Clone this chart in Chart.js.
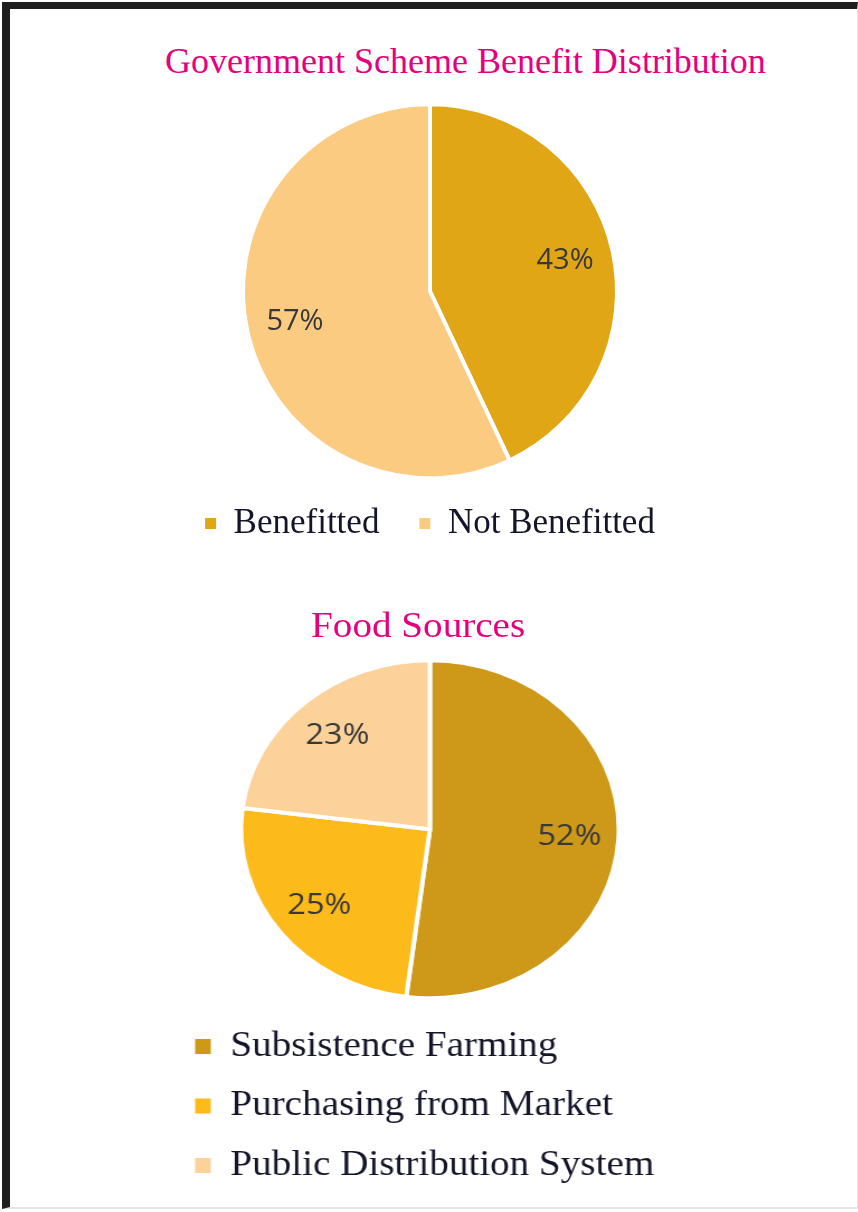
<!DOCTYPE html>
<html>
<head>
<meta charset="utf-8">
<script src="https://cdn.jsdelivr.net/npm/chart.js@4.4.1/dist/chart.umd.min.js"></script>
<style>
  html, body { margin: 0; padding: 0; background: #fff; }
  body { width: 858px; height: 1212px; position: relative; overflow: hidden; }
  .frame {
    position: absolute; left: 2px; top: 2px; right: 0; bottom: 3px;
    border-left: 8px solid #1e1e1e; border-top: 7px solid #1e1e1e;
    border-right: 1px solid #e4e4e4; border-bottom: 2px solid #e6e6e6;
  }
  .title {
    position: absolute; text-align: center; white-space: nowrap;
    font-family: "Liberation Serif", "Times New Roman", serif;
    color: #E5007D; line-height: 40px;
  }
  #schemeBox { position: absolute; left: 0; top: 90px; width: 860px; height: 461px; }
  /* second figure is drawn narrower and widened horizontally */
  #foodWrap { position: absolute; left: 0; top: 0; width: 769px; height: 1212px;
    transform: scaleX(1.118); transform-origin: 0 0; }
  #foodBox { position: absolute; left: 0; top: 640px; width: 769px; height: 553px; }
</style>
</head>
<body>
<div class="frame"></div>

<div class="title" style="left:165px; top:41px; width:600px; font-size:36px;">Government Scheme Benefit Distribution</div>
<div id="schemeBox"><canvas id="schemeChart"></canvas></div>

<div id="foodWrap">
  <div class="title" style="left:224px; top:606px; width:300px; font-size:35px;">Food Sources</div>
  <div id="foodBox"><canvas id="foodChart"></canvas></div>
</div>

<script>
const schemeLabels = ['Benefitted', 'Not Benefitted'];
const schemeValues = [43, 57];
const schemeColors = ['#E0A616', '#FBCB82'];

const foodLabels = ['Subsistence Farming', 'Purchasing from Market', 'Public Distribution System'];
const foodValues = [52, 25, 23];
const foodColors = ['#CE9918', '#FCBB1A', '#FCD29A'];

const legendFont = { size: 35, family: "'Liberation Serif', 'Times New Roman', serif" };

// percentage text inside each slice, along the slice's middle angle
const sliceLabels = {
    id: 'sliceLabels',
    afterDatasetsDraw(chart) {
        const ctx = chart.ctx;
        const meta = chart.getDatasetMeta(0);
        const values = chart.data.datasets[0].data;
        ctx.save();
        ctx.font = "29px 'Open Sans', sans-serif";
        ctx.fillStyle = '#383838';
        ctx.textAlign = 'center';
        ctx.textBaseline = 'middle';
        meta.data.forEach((arc, i) => {
            const { x, y, startAngle, endAngle, outerRadius } = arc.getProps(['x', 'y', 'startAngle', 'endAngle', 'outerRadius'], true);
            const mid = (startAngle + endAngle) / 2;
            const r = outerRadius * 0.74;
            ctx.fillText(values[i] + '%', x + Math.cos(mid) * r, y + Math.sin(mid) * r);
        });
        ctx.restore();
    }
};

// legend swatches without the white slice border
const plainLabels = chart => Chart.overrides.pie.plugins.legend.labels.generateLabels(chart)
    .map(item => Object.assign(item, { lineWidth: 0 }));

new Chart(document.getElementById('schemeChart'), {
    type: 'pie',
    data: {
        labels: schemeLabels,
        datasets: [{
            data: schemeValues,
            backgroundColor: schemeColors,
            borderColor: '#ffffff',
            borderWidth: 4,
            clip: false
        }]
    },
    options: {
        responsive: true,
        maintainAspectRatio: false,
        animation: false,
        radius: 187,
        layout: { padding: { top: 26.5 } },
        plugins: {
            legend: {
                position: 'bottom',
                labels: {
                    boxWidth: 11,
                    boxHeight: 11,
                    padding: 40,
                    color: '#15152a',
                    font: legendFont,
                    generateLabels: plainLabels
                }
            },
            tooltip: { enabled: false }
        }
    },
    plugins: [sliceLabels]
});

new Chart(document.getElementById('foodChart'), {
    type: 'pie',
    data: {
        labels: foodLabels,
        datasets: [{
            data: foodValues,
            backgroundColor: foodColors,
            borderColor: '#ffffff',
            borderWidth: 4,
            clip: false
        }]
    },
    options: {
        responsive: true,
        maintainAspectRatio: false,
        animation: false,
        radius: 169,
        layout: { padding: { top: 14, left: 150, right: 150 } },
        plugins: {
            legend: {
                position: 'bottom',
                align: 'start',
                labels: {
                    boxWidth: 14,
                    boxHeight: 15,
                    padding: 24.5,
                    color: '#15152a',
                    font: legendFont,
                    generateLabels: plainLabels
                }
            },
            tooltip: { enabled: false }
        }
    },
    plugins: [sliceLabels]
});
</script>
</body>
</html>
